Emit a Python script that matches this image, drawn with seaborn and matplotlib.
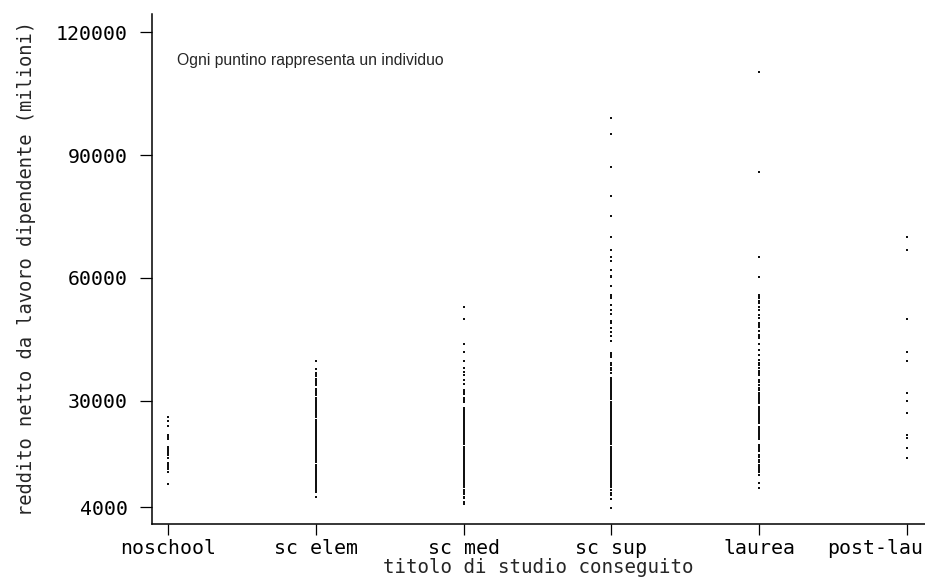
import numpy as np
import pandas as pd
import matplotlib.pyplot as plt
import matplotlib.transforms as mtransforms
import seaborn as sns

# categorie (titolo di studio)
CATEGORIE = ['noschool', 'sc elem', 'sc med', 'sc sup', 'laurea', 'post-lau']

# reddito netto per individuo
noschool = [26000, 25100, 23900, 21700, 21100, 20600, 18700, 18300, 17900,
            17500, 17100, 16700, 16000, 14800, 14400, 14000, 13600, 13200,
            12600, 9600]

sc_elem = [39800, 37700, 36800, 36400, 36000, 35300, 34800, 34300, 33800,
           32900, 32400, 31900, 31400, 30700, 30200, 29700,
           29400, 28900, 28400, 27900, 27400, 26900, 26400, 25900, 25400,
           24900, 24400, 23900, 23400, 22900, 22400, 21900, 21400, 20900,
           20400, 19900, 19400, 18900, 18400, 17900, 17400, 16900, 16400,
           15900, 15400, 14900, 14400, 13900, 13400, 12900, 12400, 11900,
           11400, 10900, 10400, 9900, 9400, 8900,
           8600, 8200, 7800, 6500]

sc_med = [52960, 49960, 43850, 41970, 39770, 37990, 37010, 36280, 35060,
          34080, 32600, 32100, 31600, 30700, 30200, 29700,
          28300, 27800, 27300, 26800, 26300, 25800, 25300, 24800, 24300,
          23800, 23300, 22800, 22300, 21800, 21300, 20800, 20300, 19800,
          19300, 18800, 18300, 17800, 17300, 16800, 16300, 15800, 15300,
          14800, 14300, 13800, 13300, 12800, 12300, 11800, 11300, 10800,
          10300, 9800, 9300, 8800, 8300, 7800, 7300,
          6550, 6230, 5330, 4760]

sc_sup = [99100, 95200, 87200, 80100, 75200, 69900, 66800, 65000, 64100,
          61900, 60400, 60200, 57900, 55700, 55400, 55100, 53400, 52100,
          51200, 49500, 48900, 47800, 46900, 45900, 44700, 41700, 41200,
          40700, 39200, 38700, 38100, 37600, 36700, 35500, 35000, 34500,
          34000, 33500, 33000, 32500,
          32300, 31800, 31300, 30800, 30300, 29800, 29300, 28800, 28300,
          27800, 27300, 26800, 26300, 25800, 25300, 24800, 24300, 23800,
          23300, 22800, 22300, 21800, 21300, 20800, 20300, 19800, 19300,
          18800, 18300, 17800, 17300, 16800, 16300, 15800, 15300, 14800,
          14300, 13800, 13300, 12800, 12300, 11800, 11300, 10800, 10300,
          9800, 9300, 8800, 8300,
          7500, 7000, 5900, 3800]

laurea = [110200, 85800, 65000, 60200, 55800, 55300, 55000, 54400, 53800,
          53000, 52200, 50900, 50100, 49000, 48600, 48100, 47100, 46000,
          45600, 45200, 43900, 42400, 41200, 39900, 39300, 38700, 37900,
          37300, 36700, 36300, 35100, 34500, 33900, 33000, 32500, 32000,
          31500, 31000, 30500, 30000, 29400,
          28500, 28000, 27500, 27000, 26500, 26000, 25500, 25000, 24500,
          23600, 23100, 22600, 22100, 21600, 21100, 20600,
          19200, 18700, 18200, 17600, 16700, 16200, 15600, 14900, 14400,
          14000, 13600, 13100, 12700, 11800, 9800, 8700]

post_lau = [69900, 66800, 49900, 42000, 39800, 31800, 30000, 26900, 21600,
            20800, 18400, 15900]

Y_TICKS = [4000, 30000, 60000, 90000, 120000]

serie = [noschool, sc_elem, sc_med, sc_sup, laurea, post_lau]
df = pd.DataFrame({
    'titolo': np.repeat(CATEGORIE, [len(s) for s in serie]),
    'reddito': np.concatenate(serie),
})

sns.set_style('ticks')
plt.rcParams['font.family'] = ['DejaVu Sans Mono', 'DejaVu Sans']

fig = plt.figure(figsize=(9.25, 5.77), dpi=100)
ax = fig.add_axes([0.1643, 0.0919, 0.8357, 0.8838])

sns.stripplot(data=df, x='titolo', y='reddito', order=CATEGORIE,
              jitter=False, color='#111111', marker='s', size=1.9,
              linewidth=0, ax=ax)

ax.set_xlim(-0.108, 5.122)
ax.set_ylim(-120, 124470)
ax.set_yticks(Y_TICKS)
ax.set_yticklabels([str(t) for t in Y_TICKS])

sns.despine(ax=ax)
for s in ['left', 'bottom']:
    ax.spines[s].set_linewidth(1.1)
    ax.spines[s].set_color('black')

ax.tick_params(axis='y', length=8.6, width=0.9, pad=9, labelsize=14.3,
               colors='black')
ax.tick_params(axis='x', length=8, width=0.9, pad=3, labelsize=14.3,
               colors='black')

# l'ultima etichetta sta a filo del bordo destro
ultima = ax.get_xticklabels()[-1]
ultima.set_horizontalalignment('right')
ultima.set_transform(ultima.get_transform() +
                     mtransforms.ScaledTranslation(16 / 100, 0,
                                                   fig.dpi_scale_trans))

ax.set_xlabel('titolo di studio conseguito', fontsize=13.8, labelpad=0)
ax.set_ylabel('reddito netto da lavoro dipendente (milioni)', fontsize=13.5,
              labelpad=14)

ax.text(0.06, 113000, 'Ogni puntino rappresenta un individuo',
        family=['Liberation Sans'], fontsize=11.3, va='center', ha='left')

plt.savefig('out.png', dpi=100)
